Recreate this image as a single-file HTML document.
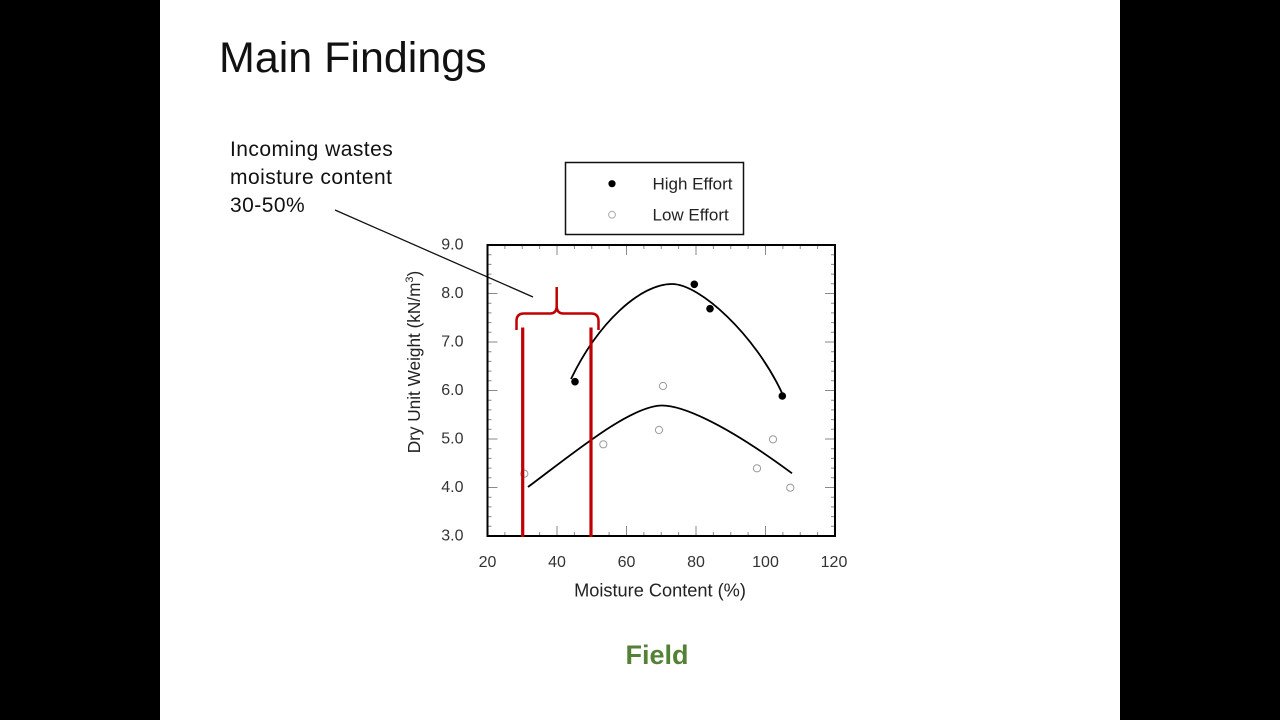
<!DOCTYPE html>
<html><head><meta charset="utf-8"><style>
html,body{margin:0;padding:0;background:#000;}
svg{display:block;}
</style></head><body>
<svg width="1280" height="720" viewBox="0 0 1280 720" xmlns="http://www.w3.org/2000/svg">
<rect x="0" y="0" width="1280" height="720" fill="#000"/>
<rect x="160" y="0" width="960" height="720" fill="#fff"/>

<text x="219" y="72" font-family="Liberation Sans, sans-serif" font-size="43" fill="#111">Main Findings</text>

<g font-family="Liberation Sans, sans-serif" font-size="21" fill="#111" letter-spacing="0.45">
<text x="230" y="156">Incoming wastes</text>
<text x="230" y="184">moisture content</text>
<text x="230" y="212">30-50%</text>
</g>
<line x1="335" y1="210" x2="533" y2="297" stroke="#111" stroke-width="1.3"/>

<!-- legend -->
<rect x="565.5" y="162.5" width="178" height="72" fill="#fff" stroke="#111" stroke-width="1.5"/>
<circle cx="612" cy="183.7" r="3.6" fill="#000"/>
<circle cx="612" cy="214.7" r="3.4" fill="none" stroke="#aaa" stroke-width="1"/>
<g font-family="Liberation Sans, sans-serif" font-size="17" fill="#222">
<text x="652.5" y="189.5">High Effort</text>
<text x="652.5" y="220.5">Low Effort</text>
</g>

<!-- ticks -->
<g stroke="#8a8a8a" stroke-width="1" fill="none">
<path d="M504.9 536v-4M522.25 536v-4M539.6 536v-4M557 536v-10M574.4 536v-4M591.75 536v-4M609.1 536v-4M626.5 536v-10M643.9 536v-4M661.25 536v-4M678.6 536v-4M696 536v-10M713.4 536v-4M730.75 536v-4M748.1 536v-4M765.5 536v-10M782.9 536v-4M800.25 536v-4M817.6 536v-4"/>
<path d="M504.9 245v4M522.25 245v4M539.6 245v4M557 245v10M574.4 245v4M591.75 245v4M609.1 245v4M626.5 245v10M643.9 245v4M661.25 245v4M678.6 245v4M696 245v10M713.4 245v4M730.75 245v4M748.1 245v4M765.5 245v10M782.9 245v4M800.25 245v4M817.6 245v4"/>
<path d="M487.5 526.3h4M487.5 516.6h4M487.5 506.9h4M487.5 497.2h4M487.5 487.5h10M487.5 477.8h4M487.5 468.1h4M487.5 458.4h4M487.5 448.7h4M487.5 439h10M487.5 429.3h4M487.5 419.6h4M487.5 409.9h4M487.5 400.2h4M487.5 390.5h10M487.5 380.8h4M487.5 371.1h4M487.5 361.4h4M487.5 351.7h4M487.5 342h10M487.5 332.3h4M487.5 322.6h4M487.5 312.9h4M487.5 303.2h4M487.5 293.5h10M487.5 283.8h4M487.5 274.1h4M487.5 264.4h4M487.5 254.7h4"/>
<path d="M835 526.3h-4M835 516.6h-4M835 506.9h-4M835 497.2h-4M835 487.5h-10M835 477.8h-4M835 468.1h-4M835 458.4h-4M835 448.7h-4M835 439h-10M835 429.3h-4M835 419.6h-4M835 409.9h-4M835 400.2h-4M835 390.5h-10M835 380.8h-4M835 371.1h-4M835 361.4h-4M835 351.7h-4M835 342h-10M835 332.3h-4M835 322.6h-4M835 312.9h-4M835 303.2h-4M835 293.5h-10M835 283.8h-4M835 274.1h-4M835 264.4h-4M835 254.7h-4"/>
</g>
<rect x="487.5" y="245" width="347.5" height="291" fill="none" stroke="#000" stroke-width="2"/>

<!-- tick labels -->
<g font-family="Liberation Sans, sans-serif" font-size="16" fill="#333" text-anchor="end">
<text x="463.5" y="249.5">9.0</text>
<text x="463.5" y="298">8.0</text>
<text x="463.5" y="346.5">7.0</text>
<text x="463.5" y="395">6.0</text>
<text x="463.5" y="443.5">5.0</text>
<text x="463.5" y="492">4.0</text>
<text x="463.5" y="540.5">3.0</text>
</g>
<g font-family="Liberation Sans, sans-serif" font-size="16" fill="#333" text-anchor="middle">
<text x="487.5" y="567">20</text>
<text x="557" y="567">40</text>
<text x="626.5" y="567">60</text>
<text x="696" y="567">80</text>
<text x="765.5" y="567">100</text>
<text x="834" y="567">120</text>
</g>
<text x="660" y="596.5" font-family="Liberation Sans, sans-serif" font-size="18.2" fill="#222" text-anchor="middle">Moisture Content (%)</text>
<text transform="translate(420,362) rotate(-90)" font-family="Liberation Sans, sans-serif" font-size="17.2" fill="#222" text-anchor="middle">Dry Unit Weight (kN/m<tspan dy="-7" font-size="11">3</tspan><tspan dy="7">)</tspan></text>

<!-- curves -->
<path d="M571 379 C598 323 640 284 672 284 C700 284 755 335 782 393" fill="none" stroke="#000" stroke-width="1.8"/>
<path d="M528 487 C575 452 630 406 662 405.5 C680 405.5 720 420 792 473.3" fill="none" stroke="#000" stroke-width="1.8"/>

<!-- high effort points -->
<g fill="#000">
<circle cx="575" cy="381.7" r="3.8"/>
<circle cx="694.3" cy="284.3" r="3.8"/>
<circle cx="710" cy="308.7" r="3.8"/>
<circle cx="782.3" cy="396" r="3.8"/>
</g>
<!-- low effort points -->
<g fill="none" stroke="#9a9a9a" stroke-width="1">
<circle cx="524.3" cy="473.7" r="3.6"/>
<circle cx="603.3" cy="444.3" r="3.6"/>
<circle cx="659" cy="430" r="3.6"/>
<circle cx="663" cy="386" r="3.6"/>
<circle cx="757" cy="468.3" r="3.6"/>
<circle cx="773" cy="439.3" r="3.6"/>
<circle cx="790.3" cy="487.7" r="3.6"/>
</g>

<!-- red annotations -->
<g stroke="#c00000" fill="none">
<line x1="522.7" y1="327.5" x2="522.7" y2="537" stroke-width="3.2"/>
<line x1="591" y1="327.5" x2="591" y2="537" stroke-width="3.2"/>
<path d="M516.5 330 L516.5 321 Q516.5 313.5 524 313.5 L550 313.5 Q556.7 313.5 556.7 306 L556.7 287 M556.7 306 Q556.7 313.5 563.5 313.5 L591 313.5 Q598.5 313.5 598.5 321 L598.5 330" stroke-width="2.5"/>
</g>

<text x="657" y="664" font-family="Liberation Sans, sans-serif" font-size="27" font-weight="bold" fill="#538135" text-anchor="middle">Field</text>
</svg>
</body></html>
